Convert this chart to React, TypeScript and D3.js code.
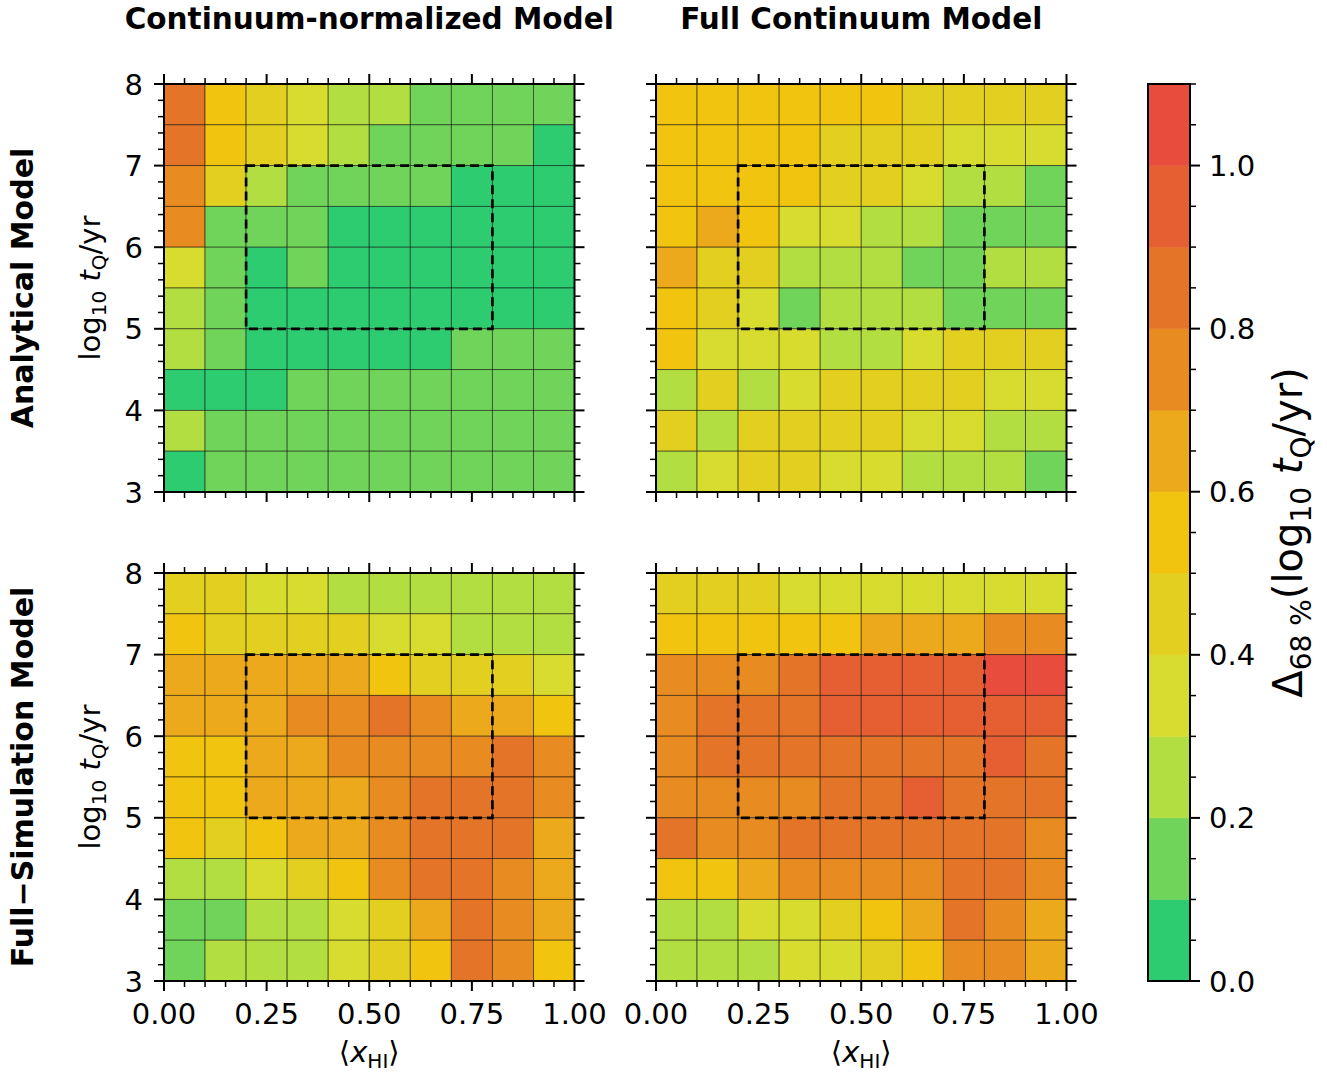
import React from "react";
import * as d3 from "d3";

// ---- data ----
const X_HI_CENTERS = [0.05, 0.15, 0.25, 0.35, 0.45, 0.55, 0.65, 0.75, 0.85, 0.95];
const LOG_TQ_CENTERS = [7.75, 7.25, 6.75, 6.25, 5.75, 5.25, 4.75, 4.25, 3.75, 3.25];
const X_TICKS = [0, 0.25, 0.5, 0.75, 1.0];
const Y_TICKS = [3, 4, 5, 6, 7, 8];
const CB_TICKS = [0, 0.2, 0.4, 0.6, 0.8, 1.0];
const CB_BOUNDS = [0, 0.1, 0.2, 0.3, 0.4, 0.5, 0.6, 0.7, 0.8, 0.9, 1.0, 1.1];
const CB_COLORS = [
  "#2ecc71", "#71d45a", "#b2de41", "#d8dc2e", "#e3cf1f", "#f1c40f",
  "#eca91b", "#e88b20", "#e47428", "#e65f33", "#e84c3d",
];
const COL_TITLES = ["Continuum-normalized Model", "Full Continuum Model"];
const ROW_TITLES = ["Analytical Model", "Full\u2212Simulation Model"];
const BOX = { x0: 0.2, x1: 0.8, y0: 5, y1: 7 };

const analyticalContNorm = [
  [0.85, 0.55, 0.45, 0.35, 0.25, 0.25, 0.15, 0.15, 0.15, 0.15],
  [0.85, 0.55, 0.45, 0.35, 0.25, 0.15, 0.15, 0.15, 0.15, 0.05],
  [0.75, 0.45, 0.25, 0.15, 0.15, 0.15, 0.15, 0.05, 0.05, 0.05],
  [0.75, 0.15, 0.15, 0.15, 0.05, 0.05, 0.05, 0.05, 0.05, 0.05],
  [0.35, 0.15, 0.05, 0.15, 0.05, 0.05, 0.05, 0.05, 0.05, 0.05],
  [0.25, 0.15, 0.05, 0.05, 0.05, 0.05, 0.05, 0.05, 0.05, 0.05],
  [0.25, 0.15, 0.05, 0.05, 0.05, 0.05, 0.05, 0.15, 0.15, 0.15],
  [0.05, 0.05, 0.05, 0.15, 0.15, 0.15, 0.15, 0.15, 0.15, 0.15],
  [0.25, 0.15, 0.15, 0.15, 0.15, 0.15, 0.15, 0.15, 0.15, 0.15],
  [0.05, 0.15, 0.15, 0.15, 0.15, 0.15, 0.15, 0.15, 0.15, 0.15],
];
const analyticalFullCont = [
  [0.55, 0.55, 0.55, 0.55, 0.55, 0.55, 0.45, 0.45, 0.45, 0.45],
  [0.55, 0.55, 0.55, 0.55, 0.45, 0.45, 0.45, 0.35, 0.35, 0.35],
  [0.55, 0.55, 0.55, 0.55, 0.45, 0.45, 0.35, 0.25, 0.25, 0.15],
  [0.55, 0.65, 0.55, 0.35, 0.35, 0.25, 0.25, 0.15, 0.15, 0.15],
  [0.65, 0.45, 0.45, 0.25, 0.25, 0.25, 0.15, 0.15, 0.25, 0.25],
  [0.55, 0.45, 0.35, 0.15, 0.25, 0.25, 0.25, 0.15, 0.15, 0.15],
  [0.55, 0.35, 0.35, 0.35, 0.25, 0.25, 0.35, 0.45, 0.45, 0.45],
  [0.25, 0.45, 0.25, 0.35, 0.45, 0.45, 0.45, 0.45, 0.35, 0.35],
  [0.45, 0.25, 0.45, 0.45, 0.45, 0.45, 0.35, 0.35, 0.25, 0.25],
  [0.25, 0.35, 0.45, 0.45, 0.35, 0.35, 0.25, 0.25, 0.25, 0.15],
];
const simContNorm = [
  [0.45, 0.45, 0.35, 0.35, 0.25, 0.25, 0.25, 0.25, 0.25, 0.25],
  [0.55, 0.45, 0.45, 0.45, 0.45, 0.35, 0.35, 0.25, 0.25, 0.25],
  [0.65, 0.65, 0.65, 0.65, 0.65, 0.55, 0.45, 0.45, 0.45, 0.35],
  [0.65, 0.65, 0.65, 0.75, 0.75, 0.85, 0.75, 0.65, 0.65, 0.55],
  [0.55, 0.55, 0.65, 0.65, 0.75, 0.75, 0.75, 0.75, 0.85, 0.75],
  [0.55, 0.55, 0.65, 0.65, 0.65, 0.75, 0.85, 0.85, 0.85, 0.75],
  [0.55, 0.45, 0.55, 0.65, 0.65, 0.75, 0.85, 0.85, 0.85, 0.65],
  [0.25, 0.25, 0.35, 0.45, 0.55, 0.75, 0.85, 0.85, 0.75, 0.65],
  [0.15, 0.15, 0.25, 0.25, 0.35, 0.45, 0.65, 0.85, 0.75, 0.65],
  [0.15, 0.25, 0.25, 0.25, 0.35, 0.45, 0.55, 0.85, 0.75, 0.55],
];
const simFullCont = [
  [0.45, 0.45, 0.45, 0.35, 0.35, 0.35, 0.35, 0.35, 0.35, 0.35],
  [0.55, 0.55, 0.55, 0.55, 0.55, 0.65, 0.65, 0.65, 0.75, 0.75],
  [0.75, 0.75, 0.75, 0.85, 0.95, 0.95, 0.95, 0.95, 1.05, 1.05],
  [0.75, 0.85, 0.85, 0.85, 0.95, 0.95, 0.95, 0.95, 0.95, 0.95],
  [0.75, 0.85, 0.85, 0.85, 0.85, 0.85, 0.85, 0.85, 0.95, 0.85],
  [0.75, 0.75, 0.75, 0.75, 0.85, 0.85, 0.95, 0.85, 0.85, 0.85],
  [0.85, 0.75, 0.75, 0.85, 0.85, 0.85, 0.85, 0.85, 0.85, 0.75],
  [0.55, 0.55, 0.65, 0.75, 0.75, 0.75, 0.75, 0.85, 0.85, 0.75],
  [0.25, 0.25, 0.35, 0.35, 0.45, 0.55, 0.65, 0.85, 0.75, 0.65],
  [0.25, 0.25, 0.25, 0.35, 0.35, 0.45, 0.55, 0.75, 0.75, 0.65],
];
const PANELS = [
  [analyticalContNorm, analyticalFullCont],
  [simContNorm, simFullCont],
];

// ---- layout ----
const W = 1327;
const H = 1076;
const COL_X = [164, 656];
const ROW_Y = [84, 573];
const PW = 410.5;
const PH = 408;
const CB = { x: 1148, y: 84, w: 42, h: 897 };
const FONT = "DejaVu Sans, sans-serif";
const TICK_FS = 29;
const SUB_FS = 20;

const color = d3.scaleThreshold<number, string>().domain(CB_BOUNDS.slice(1, -1)).range(CB_COLORS);

function range(a: number, b: number, step: number) {
  const out: number[] = [];
  const n = Math.round((b - a) / step);
  for (let i = 0; i <= n; i++) out.push(+(a + i * step).toFixed(6));
  return out;
}

function Panel({ r, c }: { r: number; c: number }) {
  const x0 = COL_X[c];
  const y0 = ROW_Y[r];
  const xs = d3.scaleLinear().domain([0, 1]).range([x0, x0 + PW]);
  const ys = d3.scaleLinear().domain([3, 8]).range([y0 + PH, y0]);
  const data = PANELS[r][c];
  const xMinor = range(0, 1, 0.05).filter((v) => !X_TICKS.some((t) => Math.abs(t - v) < 1e-6));
  const yMinor = range(3, 8, 0.2).filter((v) => !Y_TICKS.some((t) => Math.abs(t - v) < 1e-6));
  const MJ = 10, MN = 6;
  return (
    <g>
      {data.map((row, i) =>
        row.map((v, j) => {
          const xa = xs(X_HI_CENTERS[j] - 0.05);
          const xb = xs(X_HI_CENTERS[j] + 0.05);
          const ya = ys(LOG_TQ_CENTERS[i] + 0.25);
          const yb = ys(LOG_TQ_CENTERS[i] - 0.25);
          return (
            <rect key={`${i}-${j}`} x={xa} y={ya} width={xb - xa} height={yb - ya}
              fill={color(v)} stroke="rgba(0,0,0,0.55)" strokeWidth={0.9} />
          );
        })
      )}
      <rect x={xs(BOX.x0)} y={ys(BOX.y1)} width={xs(BOX.x1) - xs(BOX.x0)} height={ys(BOX.y0) - ys(BOX.y1)}
        fill="none" stroke="#000" strokeWidth={2.7} strokeDasharray="9,5" />
      <rect x={x0} y={y0} width={PW} height={PH} fill="none" stroke="#000" strokeWidth={2} />
      {X_TICKS.map((t) => (
        <g key={`xt${t}`}>
          <line x1={xs(t)} x2={xs(t)} y1={y0 + PH} y2={y0 + PH + MJ} stroke="#000" strokeWidth={2} />
          <line x1={xs(t)} x2={xs(t)} y1={y0} y2={y0 - MJ} stroke="#000" strokeWidth={2} />
        </g>
      ))}
      {xMinor.map((t) => (
        <g key={`xm${t}`}>
          <line x1={xs(t)} x2={xs(t)} y1={y0 + PH} y2={y0 + PH + MN} stroke="#000" strokeWidth={1.5} />
          <line x1={xs(t)} x2={xs(t)} y1={y0} y2={y0 - MN} stroke="#000" strokeWidth={1.5} />
        </g>
      ))}
      {Y_TICKS.map((t) => (
        <g key={`yt${t}`}>
          <line x1={x0 - MJ} x2={x0} y1={ys(t)} y2={ys(t)} stroke="#000" strokeWidth={2} />
          <line x1={x0 + PW} x2={x0 + PW + MJ} y1={ys(t)} y2={ys(t)} stroke="#000" strokeWidth={2} />
        </g>
      ))}
      {yMinor.map((t) => (
        <g key={`ym${t}`}>
          <line x1={x0 - MN} x2={x0} y1={ys(t)} y2={ys(t)} stroke="#000" strokeWidth={1.5} />
          <line x1={x0 + PW} x2={x0 + PW + MN} y1={ys(t)} y2={ys(t)} stroke="#000" strokeWidth={1.5} />
        </g>
      ))}
      {r === 1 &&
        X_TICKS.map((t) => (
          <text key={`xl${t}`} x={xs(t)} y={y0 + PH + 43} textAnchor="middle" fontSize={TICK_FS} fontFamily={FONT}>
            {t.toFixed(2)}
          </text>
        ))}
      {c === 0 &&
        Y_TICKS.map((t) => (
          <text key={`yl${t}`} x={x0 - 21} y={ys(t) + 10.5} textAnchor="end" fontSize={TICK_FS} fontFamily={FONT}>
            {t}
          </text>
        ))}
      {r === 0 && (
        <text x={x0 + PW / 2} y={29} textAnchor="middle" fontSize={29.5} fontWeight="bold" fontFamily={FONT}>
          {COL_TITLES[c]}
        </text>
      )}
      {c === 0 && (
        <>
          <text transform={`translate(33,${y0 + PH / 2}) rotate(-90)`} textAnchor="middle" fontSize={30}
            fontWeight="bold" fontFamily={FONT}>
            {ROW_TITLES[r]}
          </text>
          <text transform={`translate(100,${y0 + PH / 2}) rotate(-90)`} textAnchor="middle" fontSize={TICK_FS}
            fontFamily={FONT}>
            log<tspan fontSize={SUB_FS} dy={6}>10</tspan>
            <tspan dy={-6}> </tspan>
            <tspan fontStyle="italic">t</tspan>
            <tspan fontSize={SUB_FS} dy={6}>Q</tspan>
            <tspan dy={-6}>/yr</tspan>
          </text>
        </>
      )}
      {r === 1 && (
        <text x={x0 + PW / 2} y={1062} textAnchor="middle" fontSize={TICK_FS} fontFamily={FONT}>
          {"\u27e8"}
          <tspan fontStyle="italic">x</tspan>
          <tspan fontSize={SUB_FS} dy={6}>HI</tspan>
          <tspan dy={-6}>{"\u27e9"}</tspan>
        </text>
      )}
    </g>
  );
}

function Colorbar() {
  const cs = d3.scaleLinear().domain([0, 1.1]).range([CB.y + CB.h, CB.y]);
  const minor = range(0, 1.1, 0.05).filter((v) => !CB_TICKS.some((t) => Math.abs(t - v) < 1e-6));
  return (
    <g>
      {CB_COLORS.map((col, i) => (
        <rect key={i} x={CB.x} y={cs(CB_BOUNDS[i + 1])} width={CB.w} height={cs(CB_BOUNDS[i]) - cs(CB_BOUNDS[i + 1])}
          fill={col} stroke={col} strokeWidth={0.5} />
      ))}
      <rect x={CB.x} y={CB.y} width={CB.w} height={CB.h} fill="none" stroke="#000" strokeWidth={2} />
      {CB_TICKS.map((t) => (
        <g key={t}>
          <line x1={CB.x + CB.w} x2={CB.x + CB.w + 10} y1={cs(t)} y2={cs(t)} stroke="#000" strokeWidth={2} />
          <text x={CB.x + CB.w + 19} y={cs(t) + 10.5} fontSize={TICK_FS} fontFamily={FONT}>
            {t.toFixed(1)}
          </text>
        </g>
      ))}
      {minor.map((t) => (
        <line key={`m${t}`} x1={CB.x + CB.w} x2={CB.x + CB.w + 6} y1={cs(t)} y2={cs(t)} stroke="#000" strokeWidth={1.5} />
      ))}
      <text transform={`translate(1302,${CB.y + CB.h / 2}) rotate(-90)`} textAnchor="middle" fontSize={40}
        fontFamily={FONT}>
        {"\u0394"}
        <tspan fontSize={28} dy={9}>68 %</tspan>
        <tspan dy={-9}>(log</tspan>
        <tspan fontSize={28} dy={9}>10</tspan>
        <tspan dy={-9}> </tspan>
        <tspan fontStyle="italic">t</tspan>
        <tspan fontSize={28} dy={9}>Q</tspan>
        <tspan dy={-9}>/yr)</tspan>
      </text>
    </g>
  );
}

export default function App() {
  return (
    <svg width={W} height={H} viewBox={`0 0 ${W} ${H}`}
      style={{ position: "absolute", left: 0, top: 0, background: "#fff" }}>
      <rect x={0} y={0} width={W} height={H} fill="#fff" />
      {[0, 1].map((r) => [0, 1].map((c) => <Panel key={`${r}${c}`} r={r} c={c} />))}
      <Colorbar />
    </svg>
  );
}
